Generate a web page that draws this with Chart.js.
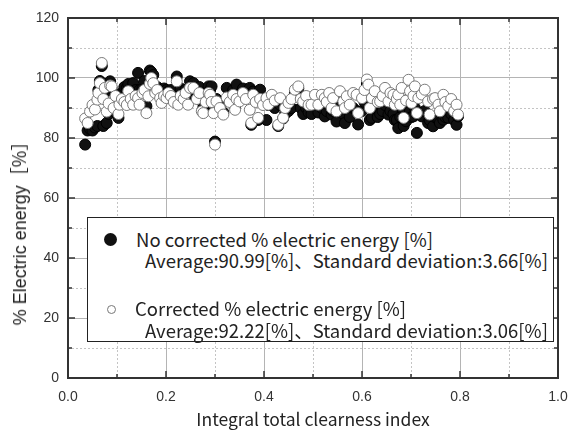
<!DOCTYPE html>
<html>
<head>
<meta charset="utf-8">
<script src="https://cdn.jsdelivr.net/npm/chart.js@4/dist/chart.umd.min.js"></script>
<style>
  html, body { margin: 0; padding: 0; background: #fff; }
  #wrap { position: relative; width: 569px; height: 432px; overflow: hidden; }
  #chart { position: absolute; left: 0; top: 0; }
  .txt { position: absolute; white-space: pre; color: #222; }
  #yTitle { font: 18px "Liberation Sans", Arial, sans-serif; left: 18px; top: 229px;
            transform: translate(-50%, -50%) rotate(-90deg); }
  #yTitle span { font-family: "Noto Sans CJK JP", sans-serif; }
  #xTitle { font: 17.5px "Noto Sans CJK JP", sans-serif; left: 313px; top: 418px;
            transform: translate(-50%, -50%); }
  #legend { position: absolute; left: 87px; top: 217px; width: 465px; height: 123px;
            border: 1px solid #222; background: #fff; }
  #legend .txt { font: 18.5px "Noto Sans CJK JP", sans-serif; line-height: 20px; }
  .dot { position: absolute; border-radius: 50%; box-sizing: border-box; }
</style>
</head>
<body>
<div id="wrap">
  <canvas id="chart" width="569" height="432"></canvas>
  <div class="txt" id="yTitle">% Electric energy<span>［%］</span></div>
  <div class="txt" id="xTitle">Integral total clearness index</div>
  <div id="legend">
    <div class="dot" style="left:16px;top:15px;width:13px;height:13px;background:#111;"></div>
    <div class="txt" style="left:48px;top:11px;">No corrected % electric energy [%]</div>
    <div class="txt" style="left:57px;top:32px;">Average:90.99[%]、Standard deviation:3.66[%]</div>
    <div class="dot" style="left:19px;top:87px;width:9px;height:9px;border:1px solid #777;background:#fff;"></div>
    <div class="txt" style="left:47px;top:80px;">Corrected % electric energy [%]</div>
    <div class="txt" style="left:57px;top:102px;">Average:92.22[%]、Standard deviation:3.06[%]</div>
  </div>
</div>
<script>
// clearness index (shared by both series)
const clearness = [
  0.035, 0.040, 0.045, 0.050, 0.055, 0.060, 0.062, 0.065, 0.069, 0.072,
  0.075, 0.079, 0.083, 0.086, 0.089, 0.093, 0.097, 0.103, 0.105, 0.110,
  0.115, 0.120, 0.123, 0.128, 0.133, 0.138, 0.143, 0.146, 0.152, 0.156,
  0.160, 0.164, 0.167, 0.170, 0.174, 0.178, 0.182, 0.188, 0.191, 0.196,
  0.201, 0.205, 0.210, 0.216, 0.222, 0.225, 0.230, 0.236, 0.240, 0.245,
  0.249, 0.256, 0.263, 0.268, 0.273, 0.276, 0.281, 0.287, 0.290, 0.293,
  0.297, 0.300, 0.303, 0.310, 0.317, 0.324, 0.330, 0.337, 0.341, 0.344,
  0.350, 0.357, 0.363, 0.371, 0.374, 0.378, 0.383, 0.388, 0.392, 0.398,
  0.405, 0.409, 0.416, 0.422, 0.429, 0.433, 0.439, 0.443, 0.450, 0.456,
  0.463, 0.470, 0.475, 0.480, 0.486, 0.491, 0.497, 0.504, 0.511, 0.518,
  0.524, 0.528, 0.533, 0.538, 0.541, 0.548, 0.555, 0.562, 0.565, 0.569,
  0.575, 0.582, 0.589, 0.592, 0.600, 0.605, 0.610, 0.613, 0.616, 0.620,
  0.626, 0.632, 0.637, 0.642, 0.647, 0.654, 0.658, 0.664, 0.667, 0.671,
  0.674, 0.678, 0.681, 0.685, 0.690, 0.695, 0.698, 0.701, 0.705, 0.708,
  0.712, 0.715, 0.722, 0.728, 0.735, 0.738, 0.745, 0.749, 0.756, 0.759,
  0.766, 0.770, 0.776, 0.782, 0.788, 0.793, 0.796
];

// % electric energy, not corrected (black)
const noCorrected = [
  77.8, 82.5, 83.0, 82.5, 83.5, 84.0, 96.0, 99.0, 104.0, 84.0,
  95.0, 85.0, 88.0, 98.9, 96.5, 89.0, 93.0, 86.7, 94.0, 95.0,
  97.0, 96.7, 98.0, 92.0, 98.3, 96.0, 101.7, 96.0, 96.5, 99.0,
  90.6, 96.0, 102.5, 102.0, 101.0, 96.0, 97.0, 96.0, 95.0, 96.5,
  96.0, 95.5, 96.0, 93.0, 100.5, 92.2, 96.5, 94.0, 96.0, 93.0,
  98.9, 98.3, 95.0, 97.0, 92.2, 90.0, 94.0, 97.2, 96.0, 97.2,
  89.5, 78.8, 93.0, 91.0, 88.5, 96.7, 93.0, 96.0, 90.5, 97.8,
  93.5, 96.5, 94.0, 96.7, 84.4, 95.5, 93.0, 86.0, 96.1, 92.0,
  86.0, 91.0, 91.0, 90.0, 84.0, 91.0, 86.5, 88.0, 89.0, 90.0,
  95.0, 96.5, 90.0, 88.0, 90.0, 88.5, 88.0, 91.0, 88.5, 90.0,
  87.2, 89.0, 91.0, 87.8, 89.0, 85.5, 92.0, 88.0, 85.0, 90.0,
  87.0, 90.0, 89.0, 84.5, 89.0, 92.0, 98.0, 95.0, 86.0, 86.7,
  90.0, 87.0, 88.0, 89.0, 91.0, 87.8, 89.0, 88.0, 86.0, 86.0,
  83.3, 87.0, 90.0, 84.0, 85.6, 93.0, 89.0, 87.0, 87.2, 90.0,
  81.7, 88.0, 87.2, 89.0, 85.0, 86.0, 83.9, 87.0, 86.0, 85.0,
  86.1, 87.0, 86.7, 88.0, 86.0, 84.4, 87.2
];

// % electric energy, corrected (white)
const corrected = [
  86.5, 85.0, 88.8, 91.0, 89.5, 92.8, 95.0, 98.3, 105.0, 93.0,
  96.7, 88.8, 91.5, 97.5, 97.2, 90.0, 94.0, 88.0, 91.1, 93.0,
  92.0, 91.0, 95.6, 93.0, 91.1, 94.0, 93.3, 91.1, 95.0, 96.0,
  88.3, 93.9, 98.0, 100.0, 98.3, 95.0, 96.0, 93.3, 91.7, 94.0,
  93.3, 95.0, 94.0, 92.0, 98.9, 91.1, 94.0, 93.0, 95.0, 91.1,
  96.7, 96.7, 93.0, 95.0, 88.9, 88.3, 92.0, 95.0, 94.4, 92.0,
  88.3, 77.8, 92.2, 90.0, 87.8, 93.5, 92.0, 94.4, 89.4, 93.0,
  92.2, 95.0, 93.0, 89.4, 85.0, 94.4, 92.0, 86.7, 93.0, 91.0,
  93.3, 91.1, 94.4, 92.5, 84.4, 93.3, 86.7, 90.0, 91.7, 93.0,
  96.1, 97.2, 93.0, 92.2, 94.0, 91.0, 91.1, 94.4, 91.1, 94.4,
  93.3, 92.0, 95.0, 90.0, 93.3, 88.9, 95.6, 92.2, 90.0, 93.9,
  91.1, 95.0, 94.4, 88.3, 93.3, 96.0, 99.5, 97.8, 90.0, 93.3,
  95.6, 92.0, 92.2, 94.0, 96.7, 92.2, 95.0, 94.4, 91.1, 93.0,
  94.4, 91.1, 96.7, 86.7, 92.5, 99.4, 95.6, 91.7, 94.0, 97.2,
  88.3, 93.3, 94.5, 96.1, 92.2, 87.8, 93.0, 93.3, 91.1, 88.9,
  94.4, 92.0, 90.6, 93.0, 89.0, 91.1, 87.8
];

const xTicks = { min: 0, max: 1, major: 0.2, minor: 0.1 };
const yTicks = { min: 0, max: 120, major: 20, minor: 10 };

const toPoints = ys => clearness.map((x, i) => ({ x, y: ys[i] }));

// dashed minor grid, inward tick marks and the frame
const frame = {
  id: 'frame',
  beforeDatasetsDraw(chart) {
    const { ctx, chartArea: a, scales: { x, y } } = chart;
    ctx.save();
    ctx.strokeStyle = '#c4c4c4';
    ctx.lineWidth = 1;
    ctx.setLineDash([2, 2]);
    ctx.beginPath();
    for (let v = xTicks.minor; v < xTicks.max; v += xTicks.major) {
      const px = Math.round(x.getPixelForValue(v)) + 0.5;
      ctx.moveTo(px, a.top); ctx.lineTo(px, a.bottom);
    }
    for (let v = yTicks.minor; v < yTicks.max; v += yTicks.major) {
      const py = Math.round(y.getPixelForValue(v)) + 0.5;
      ctx.moveTo(a.left, py); ctx.lineTo(a.right, py);
    }
    ctx.stroke();
    ctx.restore();
  },
  afterDraw(chart) {
    const { ctx, chartArea: a, scales: { x, y } } = chart;
    ctx.save();
    ctx.strokeStyle = '#333';
    ctx.lineWidth = 1.5;
    ctx.beginPath();
    for (let v = 0; v <= xTicks.max + 1e-9; v += xTicks.minor) {
      const px = x.getPixelForValue(v);
      const len = Math.abs(v / xTicks.major - Math.round(v / xTicks.major)) < 1e-6 ? 7 : 4;
      ctx.moveTo(px, a.bottom); ctx.lineTo(px, a.bottom - len);
      ctx.moveTo(px, a.top); ctx.lineTo(px, a.top + len);
    }
    for (let v = 0; v <= yTicks.max; v += yTicks.minor) {
      const py = y.getPixelForValue(v);
      const len = v % yTicks.major === 0 ? 7 : 4;
      ctx.moveTo(a.left, py); ctx.lineTo(a.left + len, py);
      ctx.moveTo(a.right, py); ctx.lineTo(a.right - len, py);
    }
    ctx.stroke();
    ctx.lineWidth = 2;
    ctx.strokeRect(a.left, a.top, a.right - a.left, a.bottom - a.top);
    ctx.restore();
  }
};

new Chart(document.getElementById('chart'), {
  type: 'scatter',
  data: {
    datasets: [
      {
        label: 'No corrected % electric energy [%]',
        data: toPoints(noCorrected),
        backgroundColor: '#111', borderColor: '#000', borderWidth: 1,
        pointRadius: 5.5, order: 2
      },
      {
        label: 'Corrected % electric energy [%]',
        data: toPoints(corrected),
        backgroundColor: '#fff', borderColor: '#7a7a7a', borderWidth: 1,
        pointRadius: 5.5, order: 1
      }
    ]
  },
  options: {
    responsive: false,
    animation: false,
    layout: { padding: { top: 18, right: 11, left: 0, bottom: 0 } },
    plugins: { legend: { display: false }, tooltip: { enabled: false } },
    scales: {
      x: {
        type: 'linear', min: xTicks.min, max: xTicks.max,
        afterFit: s => { s.height = 54; s.paddingLeft = 0; s.paddingRight = 0; },
        grid: { color: '#b4b4b4', drawTicks: false },
        border: { display: false },
        ticks: { stepSize: xTicks.major, padding: 11, color: '#333',
                 font: { family: 'Liberation Sans', size: 14 },
                 callback: v => v.toFixed(1) }
      },
      y: {
        min: yTicks.min, max: yTicks.max,
        afterFit: s => { s.width = 68; s.paddingTop = 0; s.paddingBottom = 0; },
        grid: { color: '#b4b4b4', drawTicks: false },
        border: { display: false },
        ticks: { stepSize: yTicks.major, padding: 9, color: '#333',
                 font: { family: 'Liberation Sans', size: 14 } }
      }
    }
  },
  plugins: [frame]
});
</script>
</body>
</html>
